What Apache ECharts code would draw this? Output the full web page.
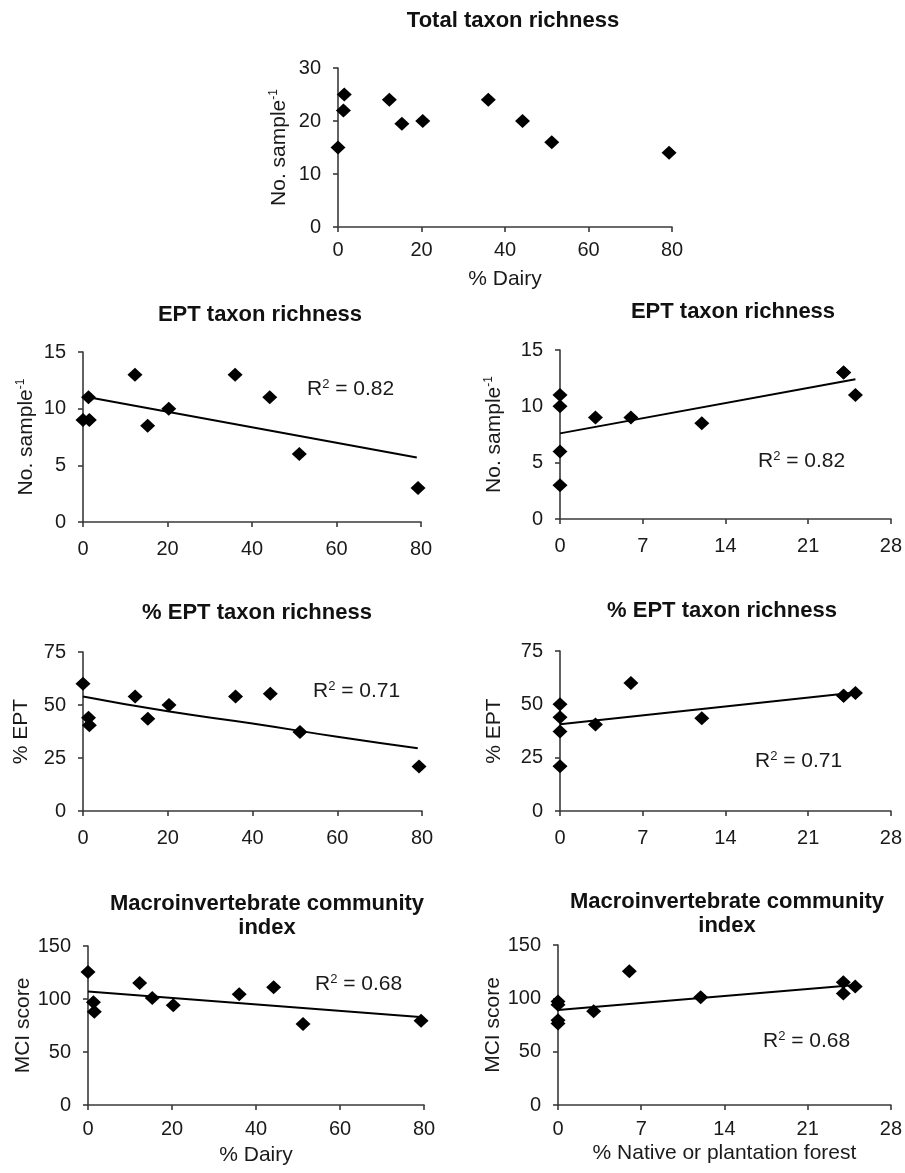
<!DOCTYPE html>
<html>
<head>
<meta charset="utf-8">
<script src="https://cdn.jsdelivr.net/npm/echarts@6/dist/echarts.min.js"></script>
<style>
html,body{margin:0;padding:0;background:#fff;}
#c{width:905px;height:1173px;}
</style>
</head>
<body>
<div id="c"></div>
<script>
// ---- data (one entry per site) ----
const dairy       = [0, 1.5, 1.3, 12.3, 15.3, 20.3, 36, 44.2, 51.2, 79.3];
const forest      = [6, 3, 0, 24, 12, 0, 24, 25, 0, 0];
const totalRich   = [15, 25, 22, 24, 19.5, 20, 24, 20, 16, 14];
const eptRich     = [9, 9, 11, 13, 8.5, 10, 13, 11, 6, 3];
const pctEPT      = [60, 40.5, 44, 54, 43.5, 50, 54, 55.3, 37.3, 21];
const mciScore    = [125.5, 88, 97, 115, 101, 94, 104.5, 111, 76.5, 79.5];

// trend lines
const trendEptDairyX  = [0, 79];   const trendEptDairyY  = [11.1, 5.7];
const trendEptForestX = [0, 25];   const trendEptForestY = [7.6, 12.4];
const trendPctDairyX  = [0, 20, 40, 60, 79]; const trendPctDairyY = [54, 47, 41.3, 35, 29.6];
const trendPctForestX = [0, 25];   const trendPctForestY = [40.7, 55.5];
const trendMciDairyX  = [0, 79];   const trendMciDairyY  = [107, 83];
const trendMciForestX = [0, 25];   const trendMciForestY = [89, 112.5];

const titles = ['Total taxon richness', 'EPT taxon richness', 'EPT taxon richness',
  '% EPT taxon richness', '% EPT taxon richness',
  'Macroinvertebrate community\nindex', 'Macroinvertebrate community\nindex'];
const r2Labels = ['0.82', '0.82', '0.71', '0.71', '0.68', '0.68'];
const dairyTicks  = {min: 0, max: 80, interval: 20};
const forestTicks = {min: 0, max: 28, interval: 7};
const xNames = ['% Dairy', '', '', '', '', '% Dairy', '% Native or plantation forest'];
const yNames = ['No. sample{sup|-1}', 'No. sample{sup|-1}', 'No. sample{sup|-1}', '% EPT', '% EPT', 'MCI score', 'MCI score'];
const yTicks = [{max: 30, interval: 10}, {max: 15, interval: 5}, {max: 15, interval: 5},
  {max: 75, interval: 25}, {max: 75, interval: 25}, {max: 150, interval: 50}, {max: 150, interval: 50}];

const zip = (a, b) => a.map((v, i) => [v, b[i]]);

// ---- layout ----
const FONT = "'Liberation Sans', Arial, sans-serif";
const panels = [
  {x0: 338, x1: 672, yt: 68,  yb: 227,  tx: 508, ty: 4,   yGap: 48, xGap: 42, xm: 13, r2: null},
  {x0: 83,  x1: 421, yt: 352, yb: 522,  tx: 255, ty: 298, yGap: 46, xGap: 0,  xm: 17, r2: [307, 378]},
  {x0: 560, x1: 893, yt: 350, yb: 519,  tx: 728, ty: 295, yGap: 55, xGap: 0,  xm: 17, r2: [758, 450]},
  {x0: 83,  x1: 422, yt: 652, yb: 811,  tx: 252, ty: 596, yGap: 51, xGap: 0,  xm: 17, r2: [313, 680]},
  {x0: 560, x1: 893, yt: 651, yb: 811,  tx: 717, ty: 594, yGap: 55, xGap: 0,  xm: 17, r2: [755, 750]},
  {x0: 88,  x1: 424, yt: 946, yb: 1105, tx: 262, ty: 887, yGap: 53, xGap: 40, xm: 14, r2: [315, 973]},
  {x0: 558, x1: 892, yt: 945, yb: 1105, tx: 722, ty: 885, yGap: 53, xGap: 38, xm: 14, r2: [763, 1030]}
];
const isForest = [false, false, true, false, true, false, true];

const grid = [], xAxis = [], yAxis = [], title = [], graphic = [];
const axisStyle = {lineStyle: {color: '#3a3a3a', width: 1.6}};
panels.forEach((p, i) => {
  grid.push({left: p.x0, top: p.yt, width: p.x1 - p.x0, height: p.yb - p.yt, containLabel: false});
  const xt = isForest[i] ? forestTicks : dairyTicks;
  xAxis.push({
    gridIndex: i, type: 'value', min: xt.min, max: xt.max, interval: xt.interval,
    name: xNames[i], nameLocation: 'middle', nameGap: p.xGap,
    nameTextStyle: {fontFamily: FONT, fontSize: 21, color: '#1a1a1a'},
    axisLine: Object.assign({show: true, onZero: false}, axisStyle),
    axisTick: {show: true, length: 5, lineStyle: {color: '#3a3a3a', width: 1.6}},
    axisLabel: {fontFamily: FONT, fontSize: 20, color: '#1a1a1a', margin: p.xm},
    splitLine: {show: false}
  });
  yAxis.push({
    gridIndex: i, type: 'value', min: 0, max: yTicks[i].max, interval: yTicks[i].interval,
    name: yNames[i], nameLocation: 'middle', nameGap: p.yGap, nameRotate: 90,
    nameTextStyle: {fontFamily: FONT, fontSize: 21, color: '#1a1a1a',
      rich: {sup: {fontFamily: FONT, fontSize: 12, color: '#1a1a1a', verticalAlign: 'top', lineHeight: 22}}},
    axisLine: Object.assign({show: true, onZero: false}, axisStyle),
    axisTick: {show: true, length: 5, lineStyle: {color: '#3a3a3a', width: 1.6}},
    axisLabel: {fontFamily: FONT, fontSize: 20, color: '#1a1a1a', margin: 17},
    splitLine: {show: false}
  });
  title.push({
    text: titles[i], left: p.tx, top: p.ty, textAlign: 'center',
    textStyle: {fontFamily: FONT, fontSize: 22, fontWeight: 'bold', color: '#111', lineHeight: 24}
  });
  if (p.r2) {
    graphic.push({
      type: 'text', left: p.r2[0], top: p.r2[1],
      style: {
        text: 'R{sup|2} = ' + r2Labels[i - 1],
        font: '21px ' + FONT, fill: '#1a1a1a',
        rich: {sup: {fontFamily: FONT, fontSize: 13, fill: '#1a1a1a', verticalAlign: 'top', lineHeight: 22}}
      }
    });
  }
});

const ys = [totalRich, eptRich, eptRich, pctEPT, pctEPT, mciScore, mciScore];
const series = [];
ys.forEach((y, i) => {
  series.push({
    type: 'scatter', xAxisIndex: i, yAxisIndex: i,
    data: zip(isForest[i] ? forest : dairy, y),
    symbol: 'diamond', symbolSize: [15, 14],
    itemStyle: {color: '#000', opacity: 1}, silent: true, z: 3
  });
});
const trends = [null,
  [trendEptDairyX, trendEptDairyY, false],
  [trendEptForestX, trendEptForestY, false],
  [trendPctDairyX, trendPctDairyY, true],
  [trendPctForestX, trendPctForestY, false],
  [trendMciDairyX, trendMciDairyY, false],
  [trendMciForestX, trendMciForestY, false]];
trends.forEach((t, i) => {
  if (!t) return;
  series.push({
    type: 'line', xAxisIndex: i, yAxisIndex: i, data: zip(t[0], t[1]),
    smooth: t[2], showSymbol: false, symbol: 'none',
    lineStyle: {color: '#000', width: 2}, silent: true, z: 2
  });
});

const chart = echarts.init(document.getElementById('c'), null, {renderer: 'canvas'});
chart.setOption({
  animation: false,
  backgroundColor: '#fff',
  title, grid, xAxis, yAxis, series, graphic
});
</script>
</body>
</html>
